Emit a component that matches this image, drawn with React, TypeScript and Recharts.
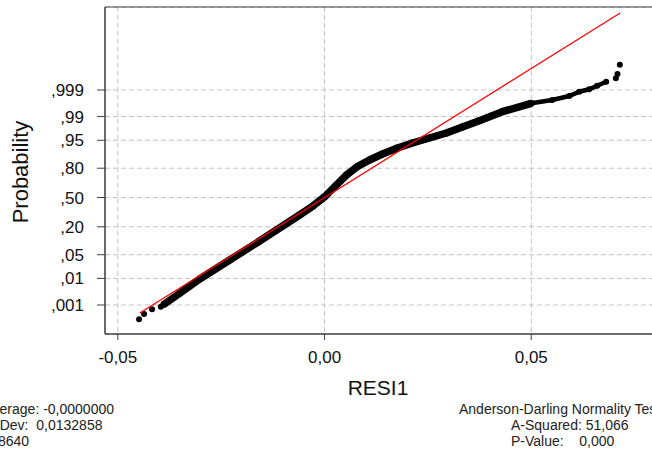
import { ScatterChart, Scatter, XAxis, YAxis, CartesianGrid, ReferenceArea } from "recharts";

// Residual axis ticks
const X_TICKS = [-0.05, 0, 0.05];

// Probability scale: normal quantiles (z) and their labels
const PROB_Z = [-3.0902, -2.3263, -1.6449, -0.8416, 0, 0.8416, 1.6449, 2.3263, 3.0902];
const PROB_LABELS = [",001", ",01", ",05", ",20", ",50", ",80", ",95", ",99", ",999"];

// Residuals (x) vs normal score (z)
const LOWER_TAIL = [
  { x: -0.04486, z: -3.501 },
  { x: -0.04365, z: -3.349 },
  { x: -0.04171, z: -3.214 },
  { x: -0.03961, z: -3.139 },
];

const BAND = [
  { x: -0.03889, z: -3.076 },
  { x: -0.03502, z: -2.754 },
  { x: -0.03019, z: -2.343 },
  { x: -0.02295, z: -1.797 },
  { x: -0.0157, z: -1.251 },
  { x: -0.00604, z: -0.503 },
  { x: -0.0029, z: -0.253 },
  { x: 0.0, z: 0.02 },
  { x: 0.00266, z: 0.333 },
  { x: 0.00531, z: 0.647 },
  { x: 0.00797, z: 0.891 },
  { x: 0.01087, z: 1.078 },
  { x: 0.01401, z: 1.25 },
  { x: 0.01763, z: 1.423 },
  { x: 0.02126, z: 1.567 },
  { x: 0.02536, z: 1.711 },
  { x: 0.02947, z: 1.854 },
  { x: 0.03333, z: 2.027 },
  { x: 0.03744, z: 2.208 },
  { x: 0.043, z: 2.466 },
  { x: 0.05, z: 2.708 },
];

const UPPER_CHAIN = [
  { x: 0.05, z: 2.708 },
  { x: 0.05507, z: 2.803 },
  { x: 0.05918, z: 2.918 },
  { x: 0.06159, z: 3.041 },
  { x: 0.06401, z: 3.11 },
  { x: 0.06594, z: 3.214 },
  { x: 0.06812, z: 3.329 },
];

const UPPER_TAIL = [
  { x: 0.07046, z: 3.426 },
  { x: 0.07085, z: 3.55 },
  { x: 0.07142, z: 3.817 },
];

// Fitted normal line (mean 0, StDev 0,0132858)
const FIT_LINE = [
  { x: -0.04469, z: -3.32 },
  { x: 0.0715, z: 5.303 },
];

const X_DOMAIN: [number, number] = [-0.0531, 0.0821];
const Y_DOMAIN: [number, number] = [-3.924, 5.476];

const FONT = '"Liberation Sans", Arial, sans-serif';
const FRAME = "#404040";

const fmtX = (v: number) => v.toFixed(2).replace(".", ",");
const fmtY = (v: number) => {
  const i = PROB_Z.findIndex((z) => Math.abs(z - v) < 1e-6);
  return i >= 0 ? PROB_LABELS[i] : "";
};

const Dot = (r: number) => (p: any) => <circle cx={p.cx} cy={p.cy} r={r} fill="#000" />;
const NoDot = () => <g />;

export default function App() {
  return (
    <div
      style={{
        position: "fixed",
        top: 0,
        left: 0,
        width: 652,
        height: 457,
        overflow: "hidden",
        background: "#fff",
        fontFamily: FONT,
      }}
    >
      <ScatterChart width={700} height={457} margin={{ top: 7, right: 36, left: 0, bottom: 93 }}>
        <CartesianGrid stroke="#c4c4c4" strokeDasharray="5 3" />
        <XAxis
          type="number"
          dataKey="x"
          domain={X_DOMAIN}
          allowDataOverflow
          ticks={X_TICKS}
          interval={0}
          tickFormatter={fmtX}
          height={30}
          tickSize={6}
          tickMargin={11}
          stroke={FRAME}
          tick={{ fontSize: 17, fill: "#111", fontFamily: FONT }}
        />
        <YAxis
          type="number"
          dataKey="z"
          domain={Y_DOMAIN}
          allowDataOverflow
          ticks={PROB_Z}
          interval={0}
          tickFormatter={fmtY}
          width={105}
          tickSize={8}
          tickMargin={13}
          stroke={FRAME}
          tick={{ fontSize: 17, fill: "#111", fontFamily: FONT }}
        />
        <ReferenceArea
          x1={X_DOMAIN[0]}
          x2={X_DOMAIN[1]}
          y1={Y_DOMAIN[0]}
          y2={Y_DOMAIN[1]}
          fill="none"
          fillOpacity={0}
          stroke={FRAME}
          strokeWidth={1}
        />
        <Scatter data={BAND} line={{ stroke: "#000", strokeWidth: 7.5, strokeLinejoin: "round" }} shape={Dot(3.4)} isAnimationActive={false} />
        <Scatter data={UPPER_CHAIN} line={{ stroke: "#000", strokeWidth: 4.5 }} shape={Dot(3)} isAnimationActive={false} />
        <Scatter data={LOWER_TAIL} shape={Dot(3)} isAnimationActive={false} />
        <Scatter data={UPPER_TAIL} shape={Dot(3)} isAnimationActive={false} />
        <Scatter data={FIT_LINE} line={{ stroke: "#ff0000", strokeWidth: 1.3 }} shape={NoDot} isAnimationActive={false} />
      </ScatterChart>
      <svg
        width={652}
        height={457}
        style={{ position: "absolute", top: 0, left: 0, pointerEvents: "none" }}
        fontFamily={FONT}
      >
        <text x={28} y={172} fontSize={22} fill="#111" textAnchor="middle" transform="rotate(-90 28 172)">
          Probability
        </text>
        <text x={378} y={395} fontSize={21} fill="#111" textAnchor="middle">
          RESI1
        </text>
        <g fontSize={14} fill="#222">
          <text x={-16.5} y={414}>Average: -0,0000000</text>
          <text x={-13.5} y={430} xmlSpace="preserve">{"StDev:  0,0132858"}</text>
          <text x={-20} y={446}>N: 8640</text>
          <text x={459} y={414}>Anderson-Darling Normality Test</text>
          <text x={511} y={430}>A-Squared: 51,066</text>
          <text x={511} y={446} xmlSpace="preserve">{"P-Value:    0,000"}</text>
        </g>
      </svg>
    </div>
  );
}
